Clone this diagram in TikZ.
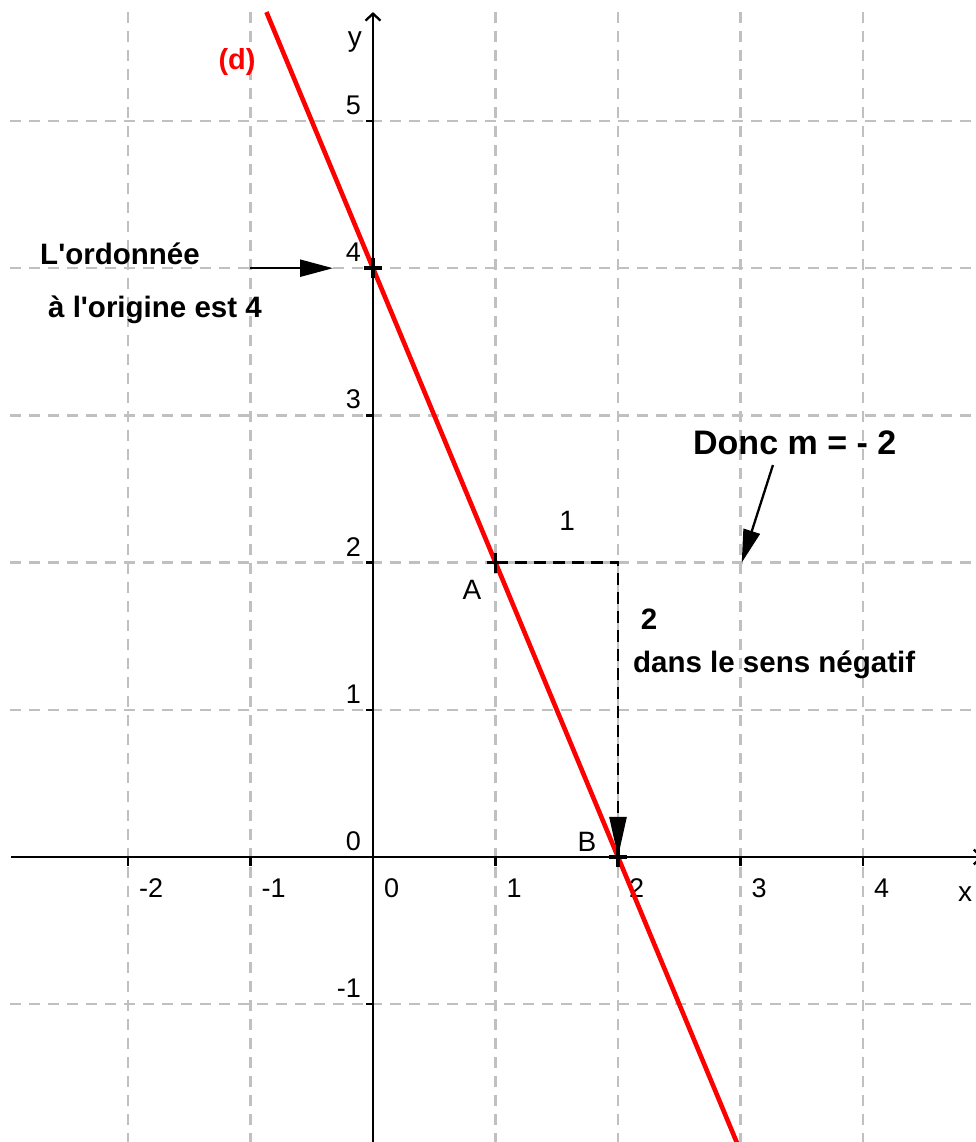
\documentclass[tikz,border=0pt]{standalone}
\usepackage{fontspec}
\setmainfont{Liberation Sans}
\usetikzlibrary{arrows.meta}
\definecolor{gridgray}{RGB}{192,192,192}
\definecolor{dred}{RGB}{255,0,0}
\tikzset{
  gridline/.style={gridgray, line width=2.3pt, dash pattern=on 11pt off 8pt},
  axisline/.style={black, line width=2.3pt, -{Straight Barb[length=7pt,width=15pt]}},
  tickline/.style={black, line width=2.3pt},
  ticklab/.style={font=\fontsize{27pt}{32pt}\selectfont, inner sep=0pt},
  ptlab/.style={font=\fontsize{28pt}{33pt}\selectfont, inner sep=0pt},
  note/.style={font=\fontsize{29.5pt}{35pt}\selectfont\bfseries, inner sep=0pt},
  bignote/.style={font=\fontsize{34pt}{40pt}\selectfont\bfseries, inner sep=0pt},
  bigarrow/.style={line width=2.3pt, -{Triangle[length=33pt,width=17pt]}},
  crossmark/.style={black, line width=3.5pt},
  construct/.style={black, line width=2.4pt, dash pattern=on 12pt off 7pt},
  redline/.style={dred, line width=4.6pt},
}
\begin{document}
\begin{tikzpicture}[x=122.5pt,y=147.2pt]
\useasboundingbox (-373pt,-285pt) rectangle (603pt,857pt);
% grid
\foreach \i in {-2,-1,1,2,3,4} \draw[gridline] (\i,5.74) -- (\i,-1.95);
\foreach \j in {-1,1,2,3,4,5} \draw[gridline] (-2.963,\j) -- (4.922,\j);
% axes
\coordinate (xstart) at (-2.955,0);
\coordinate (xend) at (4.975,0);
\coordinate (ystart) at (0,-1.95);
\coordinate (yend) at (0,5.74);
\draw[axisline] (xstart) -- (xend);
\draw[axisline] (ystart) -- (yend);
% ticks
\foreach \i in {-2,-1,1,2,3,4} \draw[tickline] (\i,0) -- ++(0,-9pt);
\foreach \j in {-1,1,2,3,5} \draw[tickline] (0,\j) -- ++(-7pt,0);
% tick labels
\foreach \i [count=\k] in {-2,-1,0,1,2,3,4}
  \node[ticklab, anchor=west] (xl\k) at ([xshift=11pt,yshift=-31pt]\i,0) {\i};
\foreach \j [count=\k] in {-1,0,1,2,3,4,5}
  \node[ticklab, anchor=east] (yl\k) at ([xshift=-12pt,yshift=16pt]0,\j) {\j};
\node[ptlab, anchor=base] (ylab) at (-0.147,5.503) {y};
\node[ptlab] (xlab) at (4.833,-0.251) {x};
% points
\coordinate (I) at (0,4);
\coordinate (A) at (1,2);
\coordinate (C) at (2,2);
\coordinate (B) at (2,0);
% construction
\draw[construct, -{Triangle[length=40pt,width=17pt]}] (A) -- (C) -- (B);
% line (d)
\coordinate (dtop) at (-0.87,5.74);
\coordinate (dbot) at (3,-2);
\draw[redline] (dtop) -- (dbot);
% crosses
\foreach \p in {I,A,B}
  \draw[crossmark] ([xshift=-9pt]\p) -- ([xshift=9pt]\p) ([yshift=-10pt]\p) -- ([yshift=10pt]\p);
% labels
\node[note, text=dred, font=\fontsize{29pt}{35pt}\selectfont\bfseries] (dlab) at (-1.110,5.401) {(d)};
\node[ptlab] (Alab) at (0.808,1.814) {A};
\node[ptlab] (Blab) at (1.747,0.102) {B};
\node[ptlab] (one) at (1.584,2.283) {1};
\node[note] (two) at (2.253,1.617) {2};
\node[note, anchor=base west] (sens) at (2.122,1.250) {dans le sens négatif};
\node[note, anchor=base west] (ord1) at (-2.718,4.022) {L\textquotesingle ordonnée};
\node[note, anchor=base west] (ord2) at (-2.653,3.668) {à l\textquotesingle origine est 4};
\node[bignote, anchor=base west] (donc) at (2.612,2.731) {Donc m = - 2};
% annotation arrows
\coordinate (ordS) at (-1.004,4);
\coordinate (ordE) at (-0.3265,4);
\draw[bigarrow] (ordS) -- (ordE);
\coordinate (mS) at (3.265,2.663);
\coordinate (mE) at (3.01,2.0);
\draw[bigarrow] (mS) -- (mE);
\end{tikzpicture}
\end{document}
